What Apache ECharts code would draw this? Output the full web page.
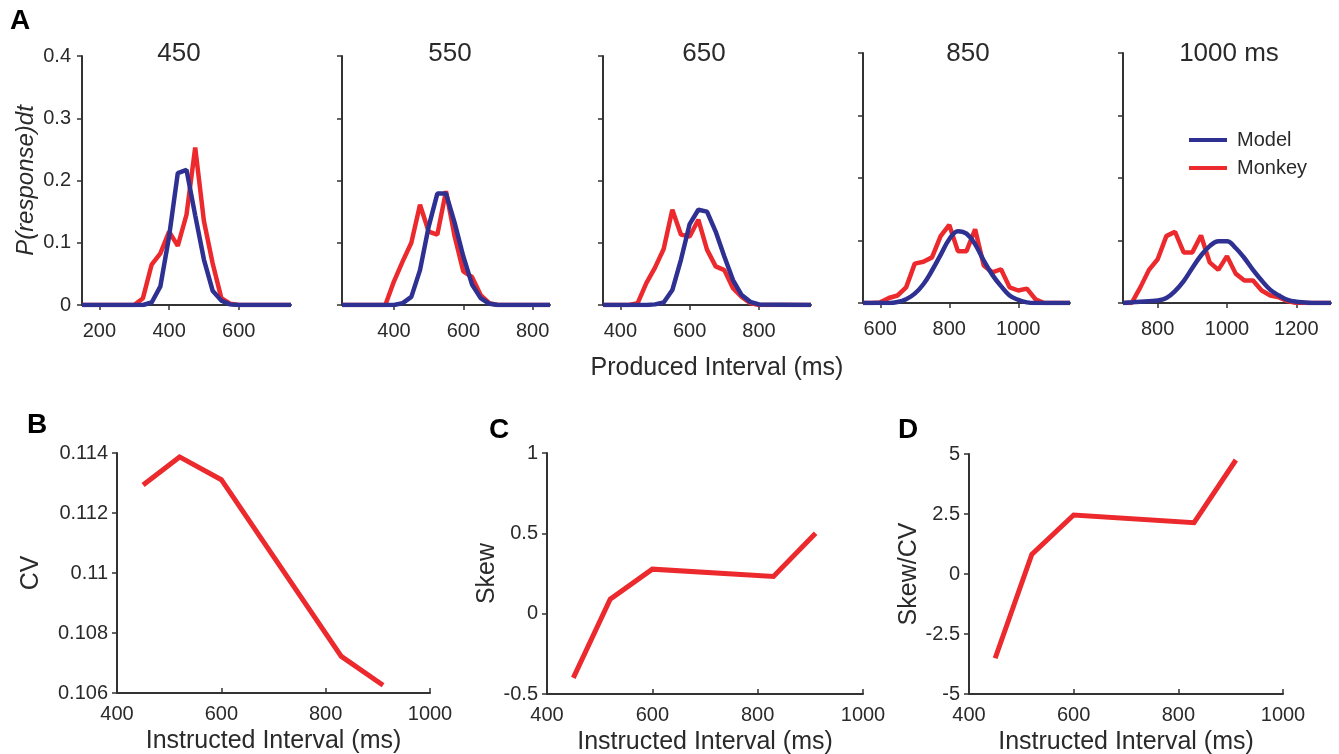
<!DOCTYPE html>
<html>
<head>
<meta charset="utf-8">
<script src="https://cdn.jsdelivr.net/npm/echarts@6/dist/echarts.min.js"></script>
<style>
html,body{margin:0;padding:0;background:#fff;}
#chart{width:1339px;height:754px;}
</style>
</head>
<body>
<div id="chart"></div>
<script>
// ---------------- DATA ----------------
const panelTitles = ['450', '550', '650', '850', '1000 ms'];
const legendNames = ['Model', 'Monkey'];

// Panel A, 450 ms
const x450 = [150, 300, 325, 350, 375, 400, 425, 450, 475, 500, 525, 550, 575, 600, 750];
const monkey450 = [0, 0, 0.011, 0.065, 0.083, 0.118, 0.095, 0.145, 0.253, 0.135, 0.067, 0.011, 0.002, 0, 0];
const model450 = [0, 0, 0, 0.004, 0.030, 0.110, 0.212, 0.217, 0.144, 0.073, 0.023, 0.007, 0.001, 0, 0];

// Panel A, 550 ms
const x550 = [250, 375, 400, 425, 450, 475, 500, 525, 550, 575, 600, 625, 650, 675, 700, 850];
const monkey550 = [0, 0, 0.038, 0.070, 0.100, 0.161, 0.118, 0.113, 0.183, 0.110, 0.054, 0.045, 0.016, 0.003, 0, 0];
const model550 = [0, 0, 0, 0.003, 0.013, 0.056, 0.126, 0.179, 0.179, 0.132, 0.078, 0.033, 0.011, 0.002, 0, 0];

// Panel A, 650 ms
const x650 = [350, 425, 450, 475, 500, 525, 550, 575, 600, 625, 650, 675, 700, 725, 750, 775, 800, 950];
const monkey650 = [0, 0, 0.003, 0.035, 0.060, 0.090, 0.153, 0.113, 0.110, 0.137, 0.089, 0.062, 0.056, 0.027, 0.013, 0.003, 0, 0];
const model650 = [0, 0, 0, 0, 0.001, 0.004, 0.024, 0.073, 0.130, 0.153, 0.150, 0.118, 0.078, 0.040, 0.016, 0.005, 0.001, 0];

// Panel A, 850 ms
const x850 = [550, 575, 600, 625, 650, 675, 700, 725, 750, 775, 800, 825, 850, 875, 900, 925, 950, 975, 1000, 1025, 1050, 1075, 1150];
const monkey850 = [0, 0, 0.001, 0.008, 0.012, 0.025, 0.063, 0.066, 0.073, 0.107, 0.125, 0.083, 0.083, 0.118, 0.060, 0.049, 0.054, 0.025, 0.020, 0.023, 0.006, 0, 0];
const model850 = [0, 0, 0, 0, 0.0015, 0.006, 0.015, 0.030, 0.052, 0.077, 0.102, 0.115, 0.111, 0.094, 0.068, 0.045, 0.027, 0.012, 0.005, 0.001, 0, 0, 0];

// Panel A, 1000 ms
const x1000 = [700, 725, 750, 775, 800, 825, 850, 875, 900, 925, 950, 975, 1000, 1025, 1050, 1075, 1100, 1125, 1150, 1175, 1200, 1225, 1250, 1300];
const monkey1000 = [0, 0, 0.025, 0.053, 0.070, 0.107, 0.114, 0.081, 0.081, 0.108, 0.065, 0.053, 0.075, 0.047, 0.036, 0.036, 0.020, 0.012, 0.009, 0.003, 0, 0, 0, 0];
const model1000 = [0, 0.001, 0.002, 0.003, 0.004, 0.008, 0.019, 0.035, 0.056, 0.076, 0.091, 0.099, 0.099, 0.088, 0.072, 0.053, 0.036, 0.021, 0.012, 0.005, 0.002, 0.001, 0, 0];

// Axis ranges / tick labels of panel A
const xRangesA = [[150, 750], [250, 850], [350, 950], [550, 1150], [700, 1300]];
const xTicksA = [[200, 400, 600], [400, 600, 800], [400, 600, 800], [600, 800, 1000], [800, 1000, 1200]];
const yTicksA = [0, 0.1, 0.2, 0.3, 0.4];

// Panels B, C, D
const instructed = [450, 520, 600, 830, 910];
const cvValues = [0.11293, 0.11387, 0.11311, 0.10722, 0.10626];
const skewValues = [-0.40, 0.09, 0.277, 0.231, 0.50];
const skewOverCvValues = [-3.51, 0.82, 2.46, 2.14, 4.75];
const xTicksBottom = [400, 600, 800, 1000];
const yTicksB = [0.106, 0.108, 0.11, 0.112, 0.114];
const yTicksC = [-0.5, 0, 0.5, 1];
const yTicksD = [-5, -2.5, 0, 2.5, 5];

// ---------------- STYLE / LAYOUT ----------------
const FONT = "'Liberation Sans', Arial, Helvetica, sans-serif";
const TXT = '#2a2a2a';
const AXC = '#333333';
const RED = '#ec2a2e';
const BLUE = '#2e3192';
const plain = v => String(v);

const topGrids = [
  {left: 82, top: 56, width: 209, height: 249},
  {left: 342, top: 56, width: 208, height: 249},
  {left: 603, top: 56, width: 208, height: 249},
  {left: 863, top: 53, width: 207, height: 250},
  {left: 1123, top: 53, width: 208, height: 250}
];
const bottomGrids = [
  {left: 117, top: 453, width: 313, height: 240},
  {left: 547, top: 453, width: 316, height: 241},
  {left: 969, top: 454, width: 314, height: 240}
];

const pairs = (xs, ys) => xs.map((x, i) => [x, ys[i]]);
const panelX = [x450, x550, x650, x850, x1000];
const panelMonkey = [monkey450, monkey550, monkey650, monkey850, monkey1000];
const panelModel = [model450, model550, model650, model850, model1000];

const grids = [];
const xAxes = [];
const yAxes = [];
const series = [];

topGrids.forEach((g, i) => {
  grids.push(Object.assign({outerBoundsMode: 'none', containLabel: false}, g));
  xAxes.push({
    gridIndex: i, type: 'value', min: xRangesA[i][0], max: xRangesA[i][1],
    axisLine: {show: true, onZero: false, lineStyle: {color: AXC, width: 2}},
    axisTick: {show: true, inside: false, length: 5, customValues: xTicksA[i], lineStyle: {color: AXC, width: 1.5}},
    axisLabel: {show: true, customValues: xTicksA[i], formatter: plain, margin: 16, fontSize: 20, color: TXT, fontFamily: FONT},
    splitLine: {show: false}
  });
  yAxes.push({
    gridIndex: i, type: 'value', min: 0, max: 0.4,
    name: i === 0 ? 'P(response)dt' : '',
    nameLocation: 'middle', nameGap: 44, nameRotate: 90,
    nameTextStyle: {fontSize: 24, fontStyle: 'italic', color: TXT, fontFamily: FONT},
    axisLine: {show: true, onZero: false, lineStyle: {color: AXC, width: 2}},
    axisTick: {show: true, inside: false, length: 5, customValues: yTicksA, lineStyle: {color: AXC, width: 1.5}},
    axisLabel: {show: i === 0, customValues: yTicksA, formatter: plain, margin: 11, fontSize: 20, color: TXT, fontFamily: FONT},
    splitLine: {show: false}
  });
  series.push({
    name: 'Monkey', type: 'line', xAxisIndex: i, yAxisIndex: i,
    data: pairs(panelX[i], panelMonkey[i]),
    symbol: 'none', lineStyle: {color: RED, width: 4.5}, itemStyle: {color: RED}, z: 2
  });
  series.push({
    name: 'Model', type: 'line', xAxisIndex: i, yAxisIndex: i,
    data: pairs(panelX[i], panelModel[i]),
    symbol: 'none', smooth: i >= 3 ? 0.4 : false,
    lineStyle: {color: BLUE, width: 4.5}, itemStyle: {color: BLUE}, z: 3
  });
});

const bottomY = [
  {name: 'CV', gap: 73, min: 0.106, max: 0.114, ticks: yTicksB, vals: cvValues},
  {name: 'Skew', gap: 47, min: -0.5, max: 1, ticks: yTicksC, vals: skewValues},
  {name: 'Skew/CV', gap: 41, min: -5, max: 5, ticks: yTicksD, vals: skewOverCvValues}
];

bottomGrids.forEach((g, k) => {
  const idx = 5 + k;
  const b = bottomY[k];
  grids.push(Object.assign({outerBoundsMode: 'none', containLabel: false}, g));
  xAxes.push({
    gridIndex: idx, type: 'value', min: 400, max: 1000,
    name: 'Instructed Interval (ms)', nameLocation: 'middle', nameGap: 36,
    nameTextStyle: {fontSize: 25, color: TXT, fontFamily: FONT},
    axisLine: {show: true, onZero: false, lineStyle: {color: AXC, width: 2}},
    axisTick: {show: true, inside: true, length: 5, customValues: xTicksBottom, lineStyle: {color: AXC, width: 1.5}},
    axisLabel: {show: true, customValues: xTicksBottom, formatter: plain, margin: 11, fontSize: 20, color: TXT, fontFamily: FONT},
    splitLine: {show: false}
  });
  yAxes.push({
    gridIndex: idx, type: 'value', min: b.min, max: b.max,
    name: b.name, nameLocation: 'middle', nameGap: b.gap, nameRotate: 90,
    nameTextStyle: {fontSize: 25, color: TXT, fontFamily: FONT},
    axisLine: {show: true, onZero: false, lineStyle: {color: AXC, width: 2}},
    axisTick: {show: true, inside: false, length: 5, customValues: b.ticks, lineStyle: {color: AXC, width: 1.5}},
    axisLabel: {show: true, customValues: b.ticks, formatter: plain, margin: 9, fontSize: 20, color: TXT, fontFamily: FONT},
    splitLine: {show: false}
  });
  series.push({
    name: b.name, type: 'line', xAxisIndex: idx, yAxisIndex: idx,
    data: pairs(instructed, b.vals),
    symbol: 'none', lineStyle: {color: RED, width: 5, cap: 'butt', join: 'miter'}, itemStyle: {color: RED}
  });
});

const titleCenters = [179, 450, 704, 968, 1229];
const graphics = [];
panelTitles.forEach((t, i) => {
  graphics.push({type: 'text', x: titleCenters[i], y: 54, silent: true,
    style: {text: t, font: '26px ' + FONT, fill: TXT, align: 'center', verticalAlign: 'middle'}});
});
graphics.push({type: 'text', x: 717, y: 368, silent: true,
  style: {text: 'Produced Interval (ms)', font: '25px ' + FONT, fill: TXT, align: 'center', verticalAlign: 'middle'}});
const letters = [['A', 10, 21], ['B', 27, 425], ['C', 489, 430], ['D', 898, 430]];
letters.forEach(l => {
  graphics.push({type: 'text', x: l[1], y: l[2], silent: true,
    style: {text: l[0], font: 'bold 28px ' + FONT, fill: '#000', align: 'left', verticalAlign: 'middle'}});
});

const chart = echarts.init(document.getElementById('chart'), null, {renderer: 'canvas'});
chart.setOption({
  animation: false,
  backgroundColor: '#ffffff',
  grid: grids,
  xAxis: xAxes,
  yAxis: yAxes,
  legend: {
    data: legendNames, orient: 'vertical', left: 1189, top: 130, padding: 0,
    icon: 'rect', itemWidth: 38, itemHeight: 4, itemGap: 8, selectedMode: false,
    textStyle: {fontSize: 20, lineHeight: 20, color: TXT, fontFamily: FONT, padding: [0, 0, 0, 5]}
  },
  graphic: graphics,
  series: series
});
</script>
</body>
</html>
